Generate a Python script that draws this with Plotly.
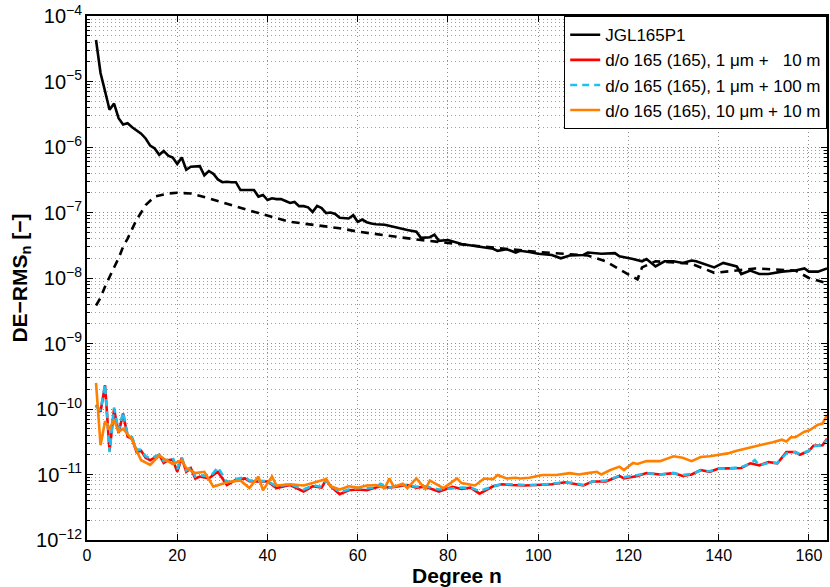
import plotly.graph_objects as go

# ---- degree RMS of the gravity field model (JGL165P1) ----
jgl_n = [2, 3, 4, 5, 6, 7, 8, 9, 10, 11, 12, 13, 14, 15, 16, 17, 18, 19, 20,
         21, 22, 23, 24, 25, 26, 27, 28, 29, 30, 31, 32, 33, 34, 35, 36, 37,
         38, 39, 40, 41, 42, 43, 44, 45, 46, 47, 48, 49, 50, 51, 52, 53, 54,
         55, 56, 57, 58, 59, 60, 61, 62, 63, 64, 66, 68, 70, 71, 73, 74, 76,
         77, 78, 80, 83, 87, 90, 91, 93, 95, 96, 98, 100, 103, 105, 107, 110,
         111, 114, 117, 118, 121, 123, 124, 126, 128, 130, 132, 134, 135, 137,
         139, 141, 144, 145, 147, 149, 151, 154, 157, 159, 160, 162, 164]
jgl_rms = [4.3e-5, 1.35e-5, 7.1e-6, 3.7e-6, 4.6e-6, 2.75e-6, 2.2e-6, 2.3e-6,
           2.0e-6, 1.8e-6, 1.6e-6, 1.35e-6, 1.05e-6, 9.5e-7, 7.6e-7, 8.7e-7,
           7.4e-7, 6.9e-7, 5.5e-7, 6.9e-7, 4.5e-7, 5.0e-7, 5.1e-7, 5.1e-7,
           3.7e-7, 4.3e-7, 3.9e-7, 3.2e-7, 2.9e-7, 2.95e-7, 2.9e-7, 2.9e-7,
           2.2e-7, 2.2e-7, 2.2e-7, 2.2e-7, 1.75e-7, 1.85e-7, 1.55e-7, 1.65e-7,
           1.6e-7, 1.6e-7, 1.5e-7, 1.4e-7, 1.45e-7, 1.25e-7, 1.25e-7, 1.2e-7,
           1.02e-7, 1.26e-7, 1.17e-7, 9.8e-8, 1.0e-7, 9.5e-8, 8.3e-8, 8.3e-8,
           8.1e-8, 9.1e-8, 7.2e-8, 7.8e-8, 7.1e-8, 6.8e-8, 6.6e-8, 6.5e-8,
           6.0e-8, 5.5e-8, 5.4e-8, 5.1e-8, 4.1e-8, 4.2e-8, 4.6e-8, 3.7e-8,
           3.8e-8, 3.3e-8, 3.0e-8, 2.8e-8, 2.6e-8, 2.75e-8, 2.45e-8, 2.6e-8,
           2.5e-8, 2.35e-8, 2.25e-8, 2.0e-8, 2.2e-8, 2.25e-8, 2.45e-8, 2.35e-8,
           2.4e-8, 2.15e-8, 1.95e-8, 1.8e-8, 1.95e-8, 1.5e-8, 1.8e-8, 1.8e-8,
           1.7e-8, 1.85e-8, 1.8e-8, 1.6e-8, 1.45e-8, 1.7e-8, 1.5e-8, 1.15e-8,
           1.3e-8, 1.15e-8, 1.15e-8, 1.25e-8, 1.3e-8, 1.4e-8, 1.25e-8, 1.25e-8,
           1.4e-8]

# ---- dashed companion curve ----
dash_n = [2, 3, 4, 5, 6, 7, 8, 9, 10, 11, 12, 13, 15, 18, 20, 23, 27, 32, 38,
          45, 53, 56, 60, 74, 84, 100, 111, 115, 118, 122, 123, 126, 134, 139,
          144, 148, 157, 160, 164]
dash_rms = [3.8e-9, 5.0e-9, 7.4e-9, 1.07e-8, 1.45e-8, 2.0e-8, 3.0e-8, 4.0e-8,
            5.6e-8, 7.8e-8, 1.0e-7, 1.3e-7, 1.75e-7, 1.95e-7, 2.0e-7, 1.95e-7,
            1.65e-7, 1.3e-7, 9.8e-8, 7.2e-8, 6.0e-8, 5.75e-8, 5.1e-8, 3.8e-8,
            3.2e-8, 2.5e-8, 2.2e-8, 1.8e-8, 1.35e-8, 9.5e-9, 1.45e-8, 1.8e-8,
            1.65e-8, 1.2e-8, 1.3e-8, 1.4e-8, 1.3e-8, 1.0e-8, 8.3e-9]

# ---- d/o 165, 1 um + 10 m ----
red_n = [2, 3, 4, 5, 6, 7, 8, 9, 10, 11, 12, 13, 14, 16, 17, 18, 19, 20, 21,
         22, 23, 24, 25, 27, 28, 29, 31, 33, 35, 36, 38, 40, 42, 45, 48, 50,
         52, 53, 54, 56, 58, 60, 62, 64, 65, 67, 69, 71, 73, 75, 78, 81, 83,
         85, 87, 90, 92, 94, 97, 100, 103, 106, 108, 110, 112, 115, 118, 119,
         122, 124, 127, 130, 132, 134, 136, 138, 140, 142, 145, 147, 149, 151,
         153, 155, 157, 158, 160, 161, 163, 164]
red_rms = [1.15e-10, 9.1e-11, 2.3e-10, 2.3e-11, 1.0e-10, 4.3e-11, 8.5e-11,
           3.8e-11, 3.5e-11, 2.2e-11, 2.3e-11, 1.8e-11, 1.65e-11, 2.0e-11,
           1.5e-11, 1.65e-11, 1.7e-11, 1.1e-11, 1.8e-11, 1.1e-11, 1.25e-11,
           8.7e-12, 9.3e-12, 8.7e-12, 9.8e-12, 1.1e-11, 6.9e-12, 8.3e-12,
           8.7e-12, 7.9e-12, 7.8e-12, 7.8e-12, 6.2e-12, 6.9e-12, 5.5e-12,
           6.6e-12, 6.3e-12, 8.3e-12, 6.6e-12, 5.0e-12, 5.75e-12, 5.9e-12,
           5.75e-12, 6.2e-12, 6.6e-12, 6.3e-12, 6.6e-12, 6.9e-12, 6.3e-12,
           6.5e-12, 5.5e-12, 6.5e-12, 6.0e-12, 6.3e-12, 5.1e-12, 6.6e-12,
           7.1e-12, 6.9e-12, 6.8e-12, 6.9e-12, 7.1e-12, 7.6e-12, 7.1e-12,
           6.8e-12, 7.8e-12, 7.8e-12, 9.5e-12, 8.7e-12, 9.5e-12, 1.05e-11,
           1.0e-11, 1.05e-11, 9.5e-12, 1.0e-11, 1.17e-11, 1.1e-11, 1.23e-11,
           1.23e-11, 1.26e-11, 1.48e-11, 1.38e-11, 1.55e-11, 1.48e-11, 2.2e-11,
           2.2e-11, 2.0e-11, 2.3e-11, 2.75e-11, 2.8e-11, 3.5e-11]

# ---- d/o 165, 1 um + 100 m ----
cyan_n = [2, 3, 4, 5, 6, 7, 8, 9, 10, 11, 12, 13, 14, 16, 17, 18, 19, 20, 21,
          22, 23, 24, 25, 27, 28, 29, 31, 33, 35, 36, 38, 40, 42, 45, 48, 50,
          52, 53, 54, 56, 58, 60, 62, 64, 65, 67, 69, 71, 73, 75, 78, 81, 83,
          85, 87, 90, 92, 94, 97, 100, 103, 106, 108, 110, 112, 115, 118, 119,
          122, 124, 127, 130, 132, 134, 136, 138, 140, 142, 145, 147, 148, 149,
          151, 153, 155, 157, 158, 160, 161, 163, 164]
cyan_rms = [1.1e-10, 9.5e-11, 2.4e-10, 2.2e-11, 1.05e-10, 4.6e-11, 9.0e-11,
            4.0e-11, 3.7e-11, 2.4e-11, 2.4e-11, 1.9e-11, 1.75e-11, 2.0e-11,
            1.6e-11, 1.7e-11, 1.8e-11, 1.2e-11, 1.8e-11, 1.15e-11, 1.3e-11,
            9.3e-12, 9.8e-12, 9.3e-12, 1.05e-11, 1.3e-11, 7.6e-12, 8.5e-12,
            9.1e-12, 8.1e-12, 8.1e-12, 7.9e-12, 6.6e-12, 7.1e-12, 5.9e-12,
            6.8e-12, 6.5e-12, 8.1e-12, 6.8e-12, 5.4e-12, 5.9e-12, 6.2e-12,
            6.2e-12, 6.3e-12, 7.2e-12, 6.3e-12, 6.9e-12, 6.9e-12, 6.5e-12,
            6.6e-12, 5.9e-12, 6.2e-12, 6.3e-12, 6.3e-12, 5.6e-12, 6.6e-12,
            7.1e-12, 7.1e-12, 6.9e-12, 6.9e-12, 7.2e-12, 7.6e-12, 7.4e-12,
            6.9e-12, 7.8e-12, 8.1e-12, 9.5e-12, 9.1e-12, 9.8e-12, 1.05e-11,
            1.0e-11, 1.05e-11, 9.8e-12, 1.02e-11, 1.15e-11, 1.12e-11, 1.23e-11,
            1.23e-11, 1.3e-11, 1.45e-11, 1.66e-11, 1.38e-11, 1.5e-11, 1.5e-11,
            2.1e-11, 2.2e-11, 2.05e-11, 2.3e-11, 2.7e-11, 2.8e-11, 3.4e-11]

# ---- d/o 165, 10 um + 10 m ----
orange_n = [2, 3, 4, 5, 6, 7, 8, 10, 11, 12, 14, 16, 17, 19, 21, 22, 24, 26,
            28, 31, 34, 36, 38, 39, 41, 42, 45, 48, 50, 53, 54, 56, 58, 60, 62,
            64, 66, 67, 68, 70, 71, 73, 75, 76, 77, 79, 82, 83, 86, 88, 90, 91,
            93, 95, 96, 98, 101, 104, 107, 109, 111, 113, 114, 116, 118, 119,
            121, 122, 124, 127, 130, 132, 134, 136, 138, 140, 142, 144, 147,
            150, 152, 154, 155, 156, 157, 159, 160, 162, 163, 164]
orange_rms = [2.5e-10, 2.8e-11, 6.5e-11, 5.0e-11, 6.8e-11, 4.5e-11, 5.0e-11,
              3.4e-11, 2.3e-11, 1.65e-11, 1.4e-11, 1.95e-11, 1.75e-11, 1.45e-11,
              1.65e-11, 1.25e-11, 1.05e-11, 1.1e-11, 6.5e-12, 7.6e-12, 8.1e-12,
              6.2e-12, 9.3e-12, 5.75e-12, 9.3e-12, 6.8e-12, 7.1e-12, 6.8e-12,
              7.4e-12, 8.5e-12, 6.6e-12, 5.9e-12, 6.6e-12, 6.3e-12, 6.8e-12,
              6.9e-12, 6.2e-12, 8.7e-12, 6.5e-12, 7.2e-12, 6.2e-12, 8.7e-12,
              6.0e-12, 8.1e-12, 7.4e-12, 6.2e-12, 8.7e-12, 7.4e-12, 6.8e-12,
              8.7e-12, 8.5e-12, 9.8e-12, 8.7e-12, 8.9e-12, 8.7e-12, 8.9e-12,
              9.8e-12, 9.8e-12, 1.05e-11, 1.0e-11, 1.05e-11, 1.1e-11, 1.0e-11,
              1.17e-11, 1.32e-11, 1.17e-11, 1.5e-11, 1.45e-11, 1.6e-11, 1.6e-11,
              1.9e-11, 1.8e-11, 1.6e-11, 1.85e-11, 1.9e-11, 2.0e-11, 2.1e-11,
              2.3e-11, 2.6e-11, 2.9e-11, 3.1e-11, 3.4e-11, 3.2e-11, 3.7e-11,
              3.7e-11, 4.5e-11, 4.7e-11, 5.75e-11, 6.0e-11, 8.1e-11]

legend_names = [
    "JGL165P1",
    "d/o 165 (165), 1 μm +\u00a0\u00a0\u00a010 m",
    "d/o 165 (165), 1 μm + 100 m",
    "d/o 165 (165), 10 μm + 10 m",
]

FONT = "Liberation Sans, Arial, sans-serif"
LW = 2.6

fig = go.Figure()
fig.add_trace(go.Scatter(x=jgl_n, y=jgl_rms, mode="lines", name=legend_names[0],
                         line=dict(color="black", width=LW)))
fig.add_trace(go.Scatter(x=red_n, y=red_rms, mode="lines", name=legend_names[1],
                         line=dict(color="#ff0000", width=LW)))
fig.add_trace(go.Scatter(x=cyan_n, y=cyan_rms, mode="lines", name=legend_names[2],
                         line=dict(color="#1ec0f0", width=LW, dash="7px,5px")))
fig.add_trace(go.Scatter(x=orange_n, y=orange_rms, mode="lines", name=legend_names[3],
                         line=dict(color="#ff8000", width=LW)))
fig.add_trace(go.Scatter(x=dash_n, y=dash_rms, mode="lines", showlegend=False,
                         line=dict(color="black", width=LW, dash="8px,6px")))

# fine dotted grid, MATLAB style
grid = dict(showgrid=True, gridcolor="#8c8c8c", griddash="1px,3px", gridwidth=1)

fig.update_xaxes(
    range=[0, 164], tick0=0, dtick=20, ticks="inside", ticklen=6,
    tickcolor="black", showline=True, linecolor="black", linewidth=1.5,
    mirror="ticks", zeroline=False,
    tickfont=dict(family=FONT, size=16, color="black"),
    title=dict(text="<b>Degree n</b>", font=dict(family=FONT, size=21, color="black"),
               standoff=0),
    **grid,
)
fig.update_yaxes(
    type="log", range=[-12, -4], dtick=1, exponentformat="power",
    ticks="inside", ticklen=6, tickcolor="black",
    showline=True, linecolor="black", linewidth=1.5, mirror="ticks",
    tickfont=dict(family=FONT, size=16, color="black"),
    title=dict(text="<b>DE\u2212RMS<sub>n</sub> [\u2212]</b>",
               font=dict(family=FONT, size=21, color="black"), standoff=3),
    minor=dict(dtick="D1", ticks="inside", ticklen=3, tickcolor="black",
               showgrid=True, gridcolor="#a0a0a0", griddash="1px,3px", gridwidth=1),
    **grid,
)

fig.update_layout(
    width=830, height=587,
    margin=dict(l=87, r=1, t=16, b=47),
    plot_bgcolor="white", paper_bgcolor="white",
    font=dict(family=FONT, size=17, color="black"),
    legend=dict(x=1, xanchor="right", y=1, yanchor="top",
                bgcolor="white", bordercolor="black", borderwidth=1.2,
                font=dict(family=FONT, size=17, color="black"),
                itemwidth=30, tracegroupgap=0),
)

fig.write_html("out.html")
